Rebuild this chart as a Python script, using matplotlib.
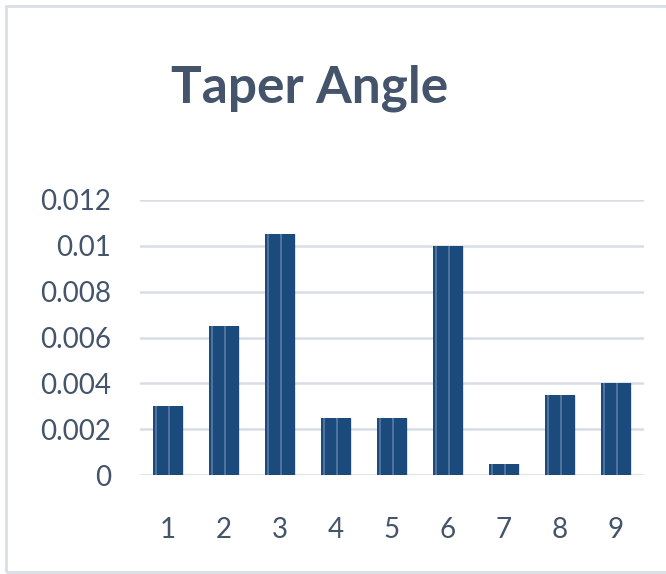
import matplotlib
matplotlib.use('Agg')
import matplotlib.pyplot as plt
from matplotlib.patches import Rectangle
from matplotlib.ticker import FixedLocator

categories = ['1', '2', '3', '4', '5', '6', '7', '8', '9']
taper_angle = [0.003, 0.0065, 0.0105, 0.0025, 0.0025, 0.01, 0.0005, 0.0035, 0.004]
y_ticks = [0, 0.002, 0.004, 0.006, 0.008, 0.01, 0.012]
y_labels = ['0', '0.002', '0.004', '0.006', '0.008', '0.01', '0.012']

bar_color = '#1A4B7C'
stripe_color = '#4F739C'
text_color = '#44546A'
grid_color = '#D9DEE6'

plt.rcParams['font.family'] = ['Lato', 'DejaVu Sans']

fig = plt.figure(figsize=(6.66, 5.74), dpi=100)
ax = fig.add_axes([140/666, 1-475/574, 504/666, 275/574])

x = list(range(len(categories)))
w = 0.52

# soft shadow on the right of each bar
ax.bar([i + 0.03 for i in x], taper_angle, width=w, color='#000000', alpha=0.12, zorder=2)
ax.bar(x, taper_angle, width=w, color=bar_color, zorder=3)
# the two lighter stripes inside each bar
ax.bar([i - w/2 + 0.045 for i in x], taper_angle, width=0.035, color=stripe_color, zorder=4)
ax.bar([i + 0.01 for i in x], taper_angle, width=0.035, color=stripe_color, zorder=4)

ax.set_xlim(-0.5, len(categories) - 0.5)
ax.set_ylim(0, 0.012)
ax.yaxis.set_major_locator(FixedLocator(y_ticks))
ax.set_yticklabels(y_labels)
ax.set_xticks(x)
ax.set_xticklabels(categories)
ax.tick_params(axis='both', length=0, labelsize=20, colors=text_color)
ax.tick_params(axis='y', pad=21)
ax.tick_params(axis='x', pad=30)
ax.grid(axis='y', color=grid_color, linewidth=1.8, zorder=0)
ax.set_axisbelow(True)
for s in ax.spines.values():
    s.set_visible(False)

fig.text(310/666, 1-88/574, 'Taper Angle', ha='center', va='center',
         fontsize=37, fontweight='bold', color=text_color)

# light outer frame of the chart area (no right edge in view)
fig.patches.append(Rectangle((6/666, 1-572/574), 1.1, 566/574, transform=fig.transFigure,
                             fill=False, edgecolor=grid_color, linewidth=2))

fig.savefig('out.png', dpi=100)
